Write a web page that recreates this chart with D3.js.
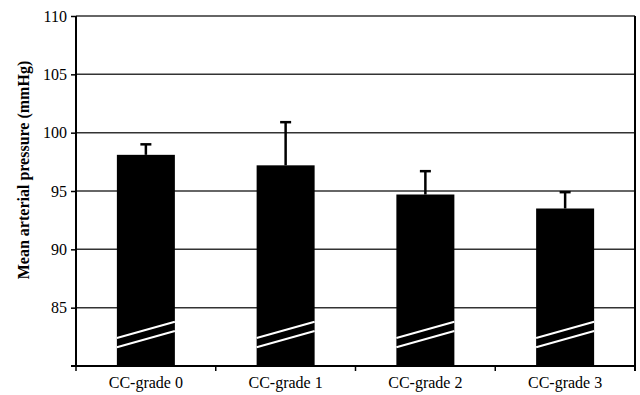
<!DOCTYPE html>
<html>
<head>
<meta charset="utf-8">
<script src="https://cdn.jsdelivr.net/npm/d3@7"></script>
<style>
  body { margin: 0; background: #fff; }
  text { font-family: "Liberation Serif", "Times New Roman", serif; }
</style>
</head>
<body>
<div id="chart"></div>
<script>
// data
var categories = ["CC-grade 0", "CC-grade 1", "CC-grade 2", "CC-grade 3"];
var means = [98.1, 97.2, 94.7, 93.5];
var upperErr = [99.0, 100.9, 96.7, 94.9];
var yTicks = [85, 90, 95, 100, 105, 110];
// axis break marks (white slashes), in data units
var breakLeft = [82.4, 81.6];
var breakRight = [83.8, 83.0];

var margin = {top: 16, right: 5, bottom: 29, left: 76},
    width = 640 - margin.left - margin.right,
    height = 395 - margin.top - margin.bottom;

var svg = d3.select("#chart")
  .append("svg")
    .attr("width", 640)
    .attr("height", 395)
  .append("g")
    .attr("transform", "translate(" + margin.left + "," + margin.top + ")");

var x = d3.scaleBand()
  .domain(categories)
  .range([0, width])
  .paddingInner(0.585)
  .paddingOuter(0.2925);

var y = d3.scaleLinear()
  .domain([80, 110])
  .range([height, 0]);

// gridlines
svg.selectAll(".grid")
  .data(yTicks)
  .enter()
  .append("line")
    .attr("x1", 0)
    .attr("x2", width)
    .attr("y1", function(d) { return y(d); })
    .attr("y2", function(d) { return y(d); })
    .style("stroke", "#333")
    .style("stroke-width", 1.5);

// right border
svg.append("line")
  .attr("x1", width).attr("x2", width)
  .attr("y1", 0).attr("y2", height + 5)
  .style("stroke", "#000")
  .style("stroke-width", 2);

// error bars (upper only)
svg.selectAll(".stem")
  .data(categories)
  .enter()
  .append("line")
    .attr("x1", function(d) { return x(d) + x.bandwidth() / 2; })
    .attr("x2", function(d) { return x(d) + x.bandwidth() / 2; })
    .attr("y1", function(d, i) { return y(means[i]); })
    .attr("y2", function(d, i) { return y(upperErr[i]); })
    .style("stroke", "#000")
    .style("stroke-width", 2.5);

svg.selectAll(".cap")
  .data(categories)
  .enter()
  .append("line")
    .attr("x1", function(d) { return x(d) + x.bandwidth() / 2 - 5.5; })
    .attr("x2", function(d) { return x(d) + x.bandwidth() / 2 + 5.5; })
    .attr("y1", function(d, i) { return y(upperErr[i]); })
    .attr("y2", function(d, i) { return y(upperErr[i]); })
    .style("stroke", "#000")
    .style("stroke-width", 2.5);

// bars
svg.selectAll(".bar")
  .data(categories)
  .enter()
  .append("rect")
    .attr("x", function(d) { return x(d); })
    .attr("y", function(d, i) { return y(means[i]); })
    .attr("width", x.bandwidth())
    .attr("height", function(d, i) { return height - y(means[i]); })
    .style("fill", "#000");

// break slashes across each bar
categories.forEach(function(c) {
  for (var k = 0; k < breakLeft.length; k++) {
    svg.append("line")
      .attr("x1", x(c))
      .attr("x2", x(c) + x.bandwidth())
      .attr("y1", y(breakLeft[k]))
      .attr("y2", y(breakRight[k]))
      .style("stroke", "#fff")
      .style("stroke-width", 2);
  }
});

// Y axis
var yAxis = svg.append("g")
  .call(d3.axisLeft(y).tickValues(yTicks).tickSize(5).tickPadding(4));
yAxis.select(".domain").attr("d", "M0,0V" + height).style("stroke-width", 2);
yAxis.selectAll(".tick line").style("stroke-width", 1.5);
yAxis.selectAll("text").style("font-size", "16px").style("fill", "#000");

// X axis: ticks at category boundaries
var xAxis = svg.append("g")
  .attr("transform", "translate(0," + height + ")");
xAxis.append("line")
  .attr("x1", -5).attr("x2", width)
  .attr("y1", 0).attr("y2", 0)
  .style("stroke", "#000")
  .style("stroke-width", 2);
xAxis.selectAll(".xtick")
  .data(d3.range(categories.length + 1))
  .enter()
  .append("line")
    .attr("x1", function(i) { return i * x.step(); })
    .attr("x2", function(i) { return i * x.step(); })
    .attr("y1", 0)
    .attr("y2", 5)
    .style("stroke", "#000")
    .style("stroke-width", 1.5);
xAxis.selectAll(".xlabel")
  .data(categories)
  .enter()
  .append("text")
    .attr("x", function(d) { return x(d) + x.bandwidth() / 2; })
    .attr("y", 22)
    .attr("text-anchor", "middle")
    .style("font-size", "16px")
    .text(function(d) { return d; });

// Y label
svg.append("text")
  .attr("transform", "rotate(-90)")
  .attr("x", -(y(96.8)))
  .attr("y", -47)
  .attr("text-anchor", "middle")
  .style("font-size", "16px")
  .style("font-weight", "bold")
  .text("Mean arterial pressure (mmHg)");
</script>
</body>
</html>
